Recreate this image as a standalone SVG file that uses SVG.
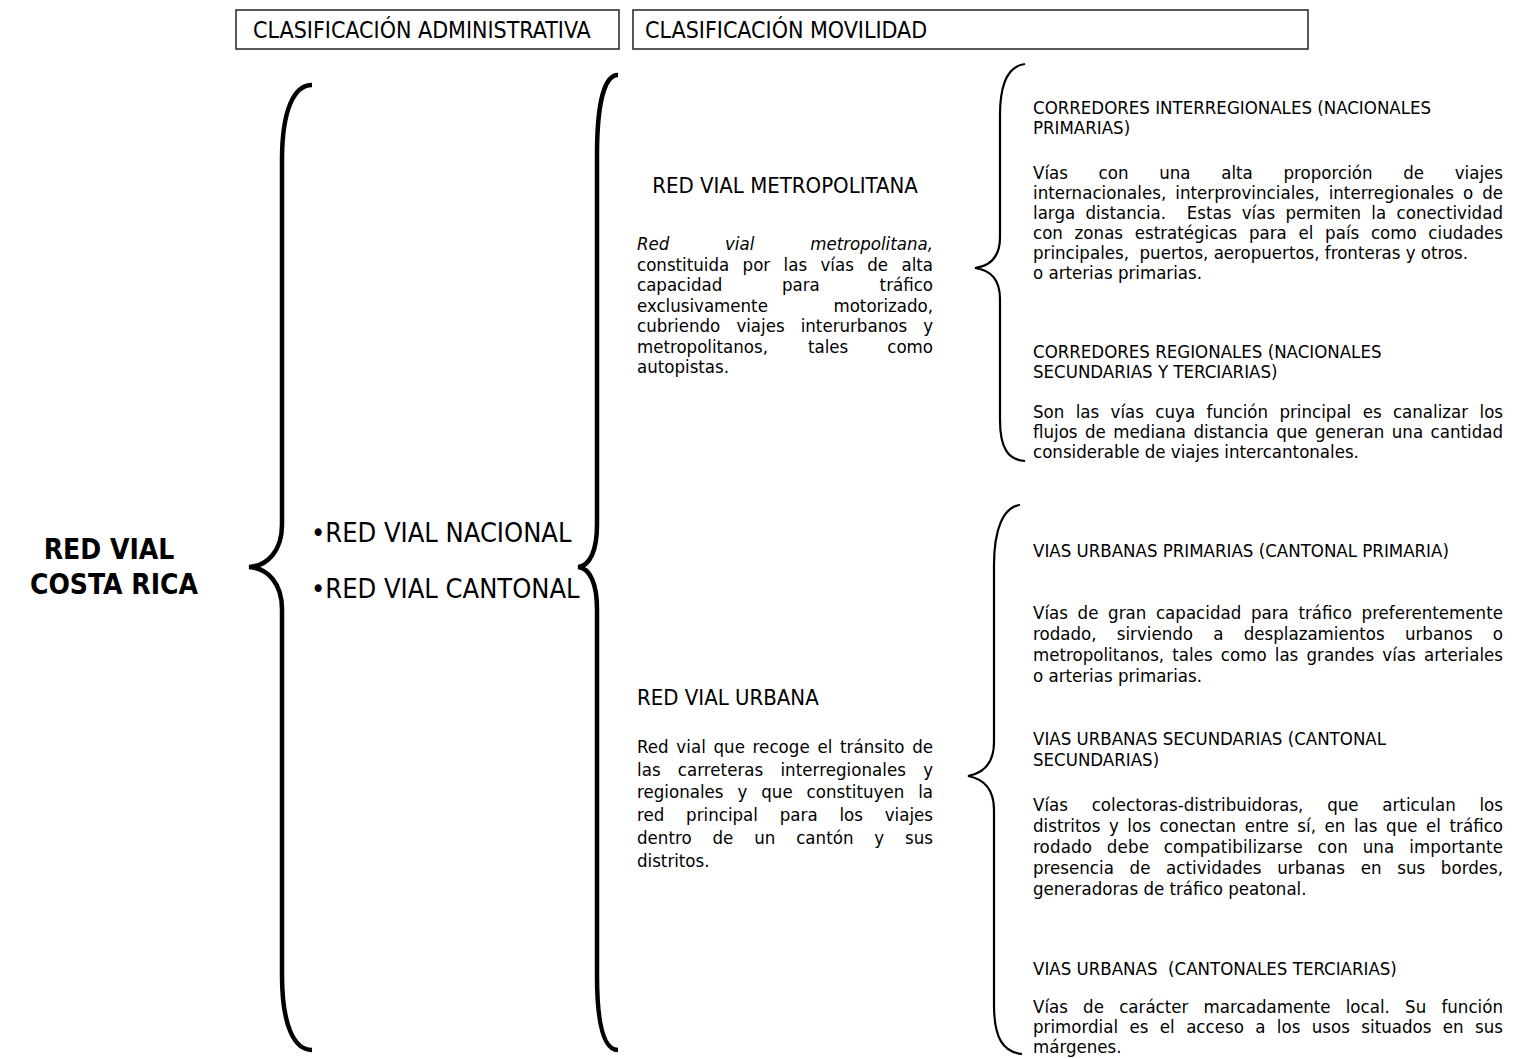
<svg xmlns="http://www.w3.org/2000/svg" width="1517" height="1059" viewBox="0 0 1517 1059">
<style>
text { font-family: 'DejaVu Sans Condensed', 'DejaVu Sans', sans-serif; font-stretch: condensed; fill: #000; }
.b { font-size: 18.5px; }
.it { font-style: italic; }
.ti { font-size: 22px; }
.bx { font-size: 23px; }
.bu { font-size: 27px; }
.mn { font-size: 28px; font-weight: bold; text-anchor: middle; }
.box { fill: #fff; stroke: #222; stroke-width: 1.5; }
.brT { fill: none; stroke: #000; stroke-width: 4.5; }
.brt { fill: none; stroke: #000; stroke-width: 2.2; }
</style>
<rect width="1517" height="1059" fill="#fff"/>

<g id="hdr-admin">
<rect class="box" x="236" y="10" width="383" height="39"/>
<text class="bx" x="253" y="38">CLASIFICACIÓN ADMINISTRATIVA</text>
</g>
<g id="hdr-movilidad">
<rect class="box" x="633" y="10" width="675" height="39"/>
<text class="bx" x="645" y="38">CLASIFICACIÓN MOVILIDAD</text>
</g>

<g id="root">
<text class="mn" x="109" y="559">RED VIAL</text>
<text class="mn" x="114" y="594">COSTA RICA</text>
</g>

<g id="admin">
<text class="bu" x="311" y="542">•RED VIAL NACIONAL</text>
<text class="bu" x="311" y="598">•RED VIAL CANTONAL</text>
</g>

<g id="metropolitana">
<text class="ti" x="785" y="193" text-anchor="middle">RED VIAL METROPOLITANA</text>
<text class="b it" x="637" y="250">Red</text>
<text class="b it" x="725" y="250">vial</text>
<text class="b it" x="933" y="250" text-anchor="end">metropolitana,</text>
<text class="b" x="637" y="270.5" textLength="296" lengthAdjust="spacing" style="word-spacing:8.1px">constituida por las vías de alta</text>
<text class="b" x="637" y="291">capacidad</text>
<text class="b" x="782" y="291">para</text>
<text class="b" x="933" y="291" text-anchor="end">tráfico</text>
<text class="b" x="637" y="311.5">exclusivamente</text>
<text class="b" x="933" y="311.5" text-anchor="end">motorizado,</text>
<text class="b" x="637" y="332" textLength="296" lengthAdjust="spacing" style="word-spacing:10.8px">cubriendo viajes interurbanos y</text>
<text class="b" x="637" y="352.5">metropolitanos,</text>
<text class="b" x="808" y="352.5">tales</text>
<text class="b" x="933" y="352.5" text-anchor="end">como</text>
<text class="b" x="637" y="373">autopistas.</text>
</g>

<g id="urbana">
<text class="ti" x="637" y="705">RED VIAL URBANA</text>
<text class="b" x="637" y="753" textLength="296" lengthAdjust="spacing" style="word-spacing:2.3px">Red vial que recoge el tránsito de</text>
<text class="b" x="637" y="775.7" textLength="296" lengthAdjust="spacing" style="word-spacing:11.8px">las carreteras interregionales y</text>
<text class="b" x="637" y="798.4" textLength="296" lengthAdjust="spacing" style="word-spacing:8.6px">regionales y que constituyen la</text>
<text class="b" x="637" y="821.1" textLength="296" lengthAdjust="spacing" style="word-spacing:16.5px">red principal para los viajes</text>
<text class="b" x="637" y="843.8" textLength="296" lengthAdjust="spacing" style="word-spacing:15.5px">dentro de un cantón y sus</text>
<text class="b" x="637" y="866.5">distritos.</text>
</g>

<g id="interregionales">
<text class="b" x="1033" y="114">CORREDORES INTERREGIONALES (NACIONALES</text>
<text class="b" x="1033" y="134">PRIMARIAS)</text>
<text class="b" x="1033" y="179" textLength="470" lengthAdjust="spacing" style="word-spacing:25.3px">Vías con una alta proporción de viajes</text>
<text class="b" x="1033" y="199" textLength="470" lengthAdjust="spacing" style="word-spacing:3.7px">internacionales, interprovinciales, interregionales o de</text>
<text class="b" x="1033" y="219" textLength="470" lengthAdjust="spacing" xml:space="preserve" style="word-spacing:5px">larga distancia.  Estas vías permiten la conectividad</text>
<text class="b" x="1033" y="239" textLength="470" lengthAdjust="spacing" style="word-spacing:6.4px">con zonas estratégicas para el país como ciudades</text>
<text class="b" x="1033" y="259" xml:space="preserve">principales,  puertos, aeropuertos, fronteras y otros.</text>
<text class="b" x="1033" y="279">o arterias primarias.</text>
</g>

<g id="regionales">
<text class="b" x="1033" y="358">CORREDORES REGIONALES (NACIONALES</text>
<text class="b" x="1033" y="378">SECUNDARIAS Y TERCIARIAS)</text>
<text class="b" x="1033" y="418" textLength="470" lengthAdjust="spacing" style="word-spacing:6.1px">Son las vías cuya función principal es canalizar los</text>
<text class="b" x="1033" y="438" textLength="470" lengthAdjust="spacing" style="word-spacing:2.2px">flujos de mediana distancia que generan una cantidad</text>
<text class="b" x="1033" y="458">considerable de viajes intercantonales.</text>
</g>

<g id="urbanas-primarias">
<text class="b" x="1033" y="557">VIAS URBANAS PRIMARIAS (CANTONAL PRIMARIA)</text>
<text class="b" x="1033" y="619" textLength="470" lengthAdjust="spacing" style="word-spacing:4.3px">Vías de gran capacidad para tráfico preferentemente</text>
<text class="b" x="1033" y="640" textLength="470" lengthAdjust="spacing" style="word-spacing:14.9px">rodado, sirviendo a desplazamientos urbanos o</text>
<text class="b" x="1033" y="661" textLength="470" lengthAdjust="spacing" style="word-spacing:2.9px">metropolitanos, tales como las grandes vías arteriales</text>
<text class="b" x="1033" y="682">o arterias primarias.</text>
</g>

<g id="urbanas-secundarias">
<text class="b" x="1033" y="745">VIAS URBANAS SECUNDARIAS (CANTONAL</text>
<text class="b" x="1033" y="766">SECUNDARIAS)</text>
<text class="b" x="1033" y="811" textLength="470" lengthAdjust="spacing" style="word-spacing:18.4px">Vías colectoras-distribuidoras, que articulan los</text>
<text class="b" x="1033" y="832" textLength="470" lengthAdjust="spacing" style="word-spacing:3.3px">distritos y los conectan entre sí, en las que el tráfico</text>
<text class="b" x="1033" y="853" textLength="470" lengthAdjust="spacing" style="word-spacing:9.3px">rodado debe compatibilizarse con una importante</text>
<text class="b" x="1033" y="874" textLength="470" lengthAdjust="spacing" style="word-spacing:10.4px">presencia de actividades urbanas en sus bordes,</text>
<text class="b" x="1033" y="895">generadoras de tráfico peatonal.</text>
</g>

<g id="urbanas-terciarias">
<text class="b" x="1033" y="975" xml:space="preserve">VIAS URBANAS  (CANTONALES TERCIARIAS)</text>
<text class="b" x="1033" y="1013" textLength="470" lengthAdjust="spacing" style="word-spacing:9.9px">Vías de carácter marcadamente local. Su función</text>
<text class="b" x="1033" y="1033" textLength="470" lengthAdjust="spacing" style="word-spacing:6.1px">primordial es el acceso a los usos situados en sus</text>
<text class="b" x="1033" y="1053">márgenes.</text>
</g>

<g id="connectors">
<path class="brT" d="M312,85 C294,85 282,110 282,160 L282,525 C282,550 268,566 249,567 C268,568 282,584 282,609 L282,975 C282,1025 294,1050 312,1050"/>
<path class="brT" d="M618,75 C604,75 597,105 597,155 L597,525 C597,550 590,566 578,567 C590,568 597,584 597,609 L597,975 C597,1025 604,1050 618,1050"/>
<path class="brt" d="M1025,64 C1008,66 1000,85 1000,115 L1000,237 C1000,257 990,266 975,268 C990,270 1000,279 1000,299 L1000,420 C1000,448 1008,460 1025,461"/>
<path class="brt" d="M1020,505 C1003,507 994,530 994,565 L994,742 C994,762 984,773 968,776 C984,779 994,790 994,810 L994,1005 C994,1038 1003,1052 1022,1054"/>
</g>
</svg>
